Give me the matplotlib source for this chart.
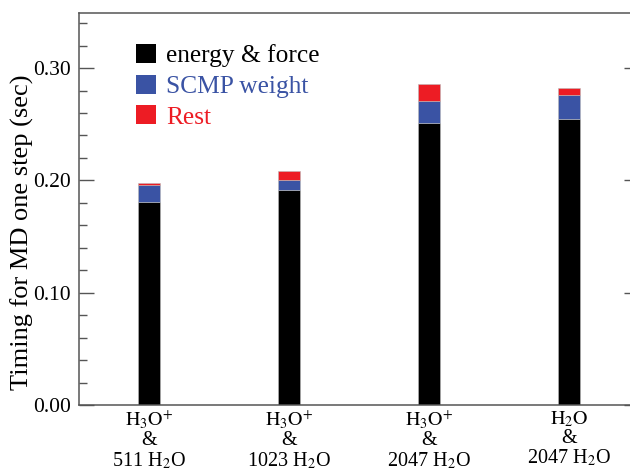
import matplotlib
matplotlib.use("Agg")
import matplotlib.pyplot as plt
from matplotlib.patches import Patch
import numpy as np

categories = ['$\\mathrm{H_3O^{\\!+}}$\n&\n511 H$_2$O',
              '$\\mathrm{H_3O^{\\!+}}$\n&\n1023 H$_2$O',
              '$\\mathrm{H_3O^{\\!+}}$\n&\n2047 H$_2$O',
              '$\\mathrm{H_2O}$\n&\n2047 H$_2$O']
energy_force = [0.181, 0.191, 0.251, 0.255]
scmp_weight = [0.015, 0.0095, 0.020, 0.021]
rest = [0.002, 0.008, 0.015, 0.0065]
series_labels = ['energy & force', 'SCMP weight', 'Rest']
colors = ['#000000', '#3a53a4', '#ed1c24']

plt.rcParams['font.family'] = ['Liberation Serif', 'DejaVu Serif']
plt.rcParams['mathtext.fontset'] = 'stix'

fig = plt.figure(figsize=(6.3, 4.75), dpi=100)
ax = fig.add_axes([79/630, 70/475, 560/630, 392/475])

x = np.arange(len(categories))
w = 0.157
ef = np.array(energy_force)
sw = np.array(scmp_weight)
rs = np.array(rest)
ax.bar(x, ef, w, color=colors[0], edgecolor='#bbbbbb', linewidth=0.4)
ax.bar(x, sw, w, bottom=ef, color=colors[1], edgecolor='#bbbbbb', linewidth=0.4)
ax.bar(x, rs, w, bottom=ef + sw, color=colors[2], edgecolor='#bbbbbb', linewidth=0.4)

ax.set_xlim(-0.5, 3.5)
ax.set_ylim(0, 0.349)
ax.set_yticks([0.0, 0.1, 0.2, 0.3])
ax.set_yticklabels(['0.00', '0.10', '0.20', '0.30'])
ax.set_yticks(np.arange(0, 0.35, 0.02), minor=True)
ax.tick_params(axis='y', which='both', direction='in', left=True, right=True,
               colors='#555555', labelcolor='black', labelsize=15.5)
ax.tick_params(axis='y', which='major', length=11, width=1.0, pad=6)
ax.tick_params(axis='y', which='minor', length=6, width=1.0)
ax.set_xticks(x)
ax.set_xticklabels(categories, fontsize=14.5, linespacing=1.0)
ax.tick_params(axis='x', length=0, pad=3)
for s in ax.spines.values():
    s.set_color('#555555')
    s.set_linewidth(1.1)

ax.set_ylabel('Timing for MD one step (sec)', fontsize=19)
ax.yaxis.set_label_coords((34 - 79) / 560, (405 - 232) / 392)

handles = [Patch(facecolor=c, edgecolor='none') for c in colors]
leg = ax.legend(handles, series_labels, loc='upper left',
                bbox_to_anchor=(136/630, 1 - 44/475), bbox_transform=fig.transFigure,
                frameon=False, fontsize=18.3, handlelength=0.79, handleheight=0.79,
                handletextpad=0.39, labelspacing=0.28, borderpad=0, borderaxespad=0,
                labelcolor=colors)

fig.savefig('out.png', dpi=100)
